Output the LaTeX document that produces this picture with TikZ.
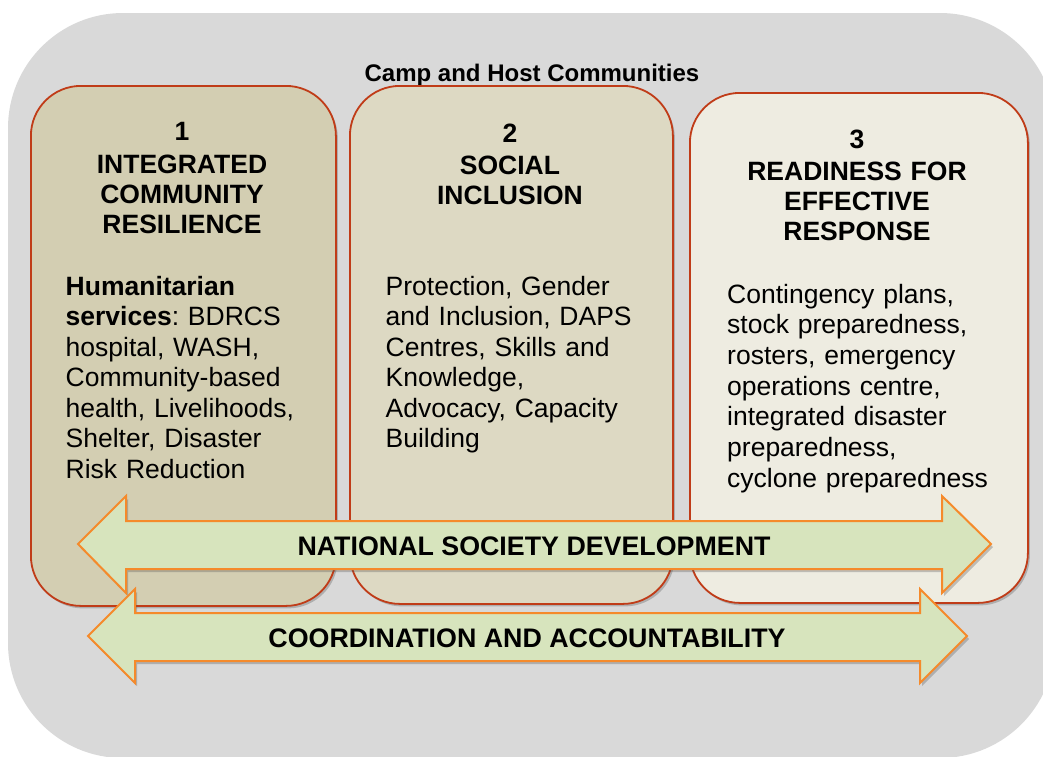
\documentclass[tikz,border=0pt]{standalone}
\usepackage{fontspec}
\setmainfont{Liberation Sans}
\usetikzlibrary{shadows}
\definecolor{bggray}{HTML}{D9D9D9}
\definecolor{boxone}{HTML}{D3CEB2}
\definecolor{boxtwo}{HTML}{DDD9C3}
\definecolor{boxthree}{HTML}{EEECE1}
\definecolor{boxedge}{HTML}{C03C18}
\definecolor{arrfill}{HTML}{D7E4BD}
\definecolor{arredge}{HTML}{F58A2B}
\begin{document}
\frenchspacing
\begin{tikzpicture}[x=1pt,y=-1pt,
  pillar/.style={draw=boxedge, line width=1.8pt, rounded corners=50pt, anchor=north west, inner sep=0pt,
    drop shadow={shadow xshift=2pt,shadow yshift=-2.5pt,opacity=0.3,fill=black!70}},
  bigarrow/.style={fill=arrfill, draw=arredge, line width=2pt, line join=miter,
    drop shadow={shadow xshift=2pt,shadow yshift=-3pt,opacity=0.3,fill=black!70}},
  headtext/.style={font=\fontsize{26.5}{30}\selectfont\bfseries, align=center, anchor=base, text width=320pt, inner sep=0pt},
  bodytext/.style={font=\fontsize{26.5}{30.5}\selectfont, align=left, anchor=base west, text width=320pt, inner sep=0pt},
  arrowtext/.style={font=\fontsize{26.8}{30}\selectfont\bfseries, anchor=base, inner sep=0pt},
  titletext/.style={font=\fontsize{24}{28}\selectfont\bfseries, anchor=base, inner sep=0pt}]
\useasboundingbox (0,0) rectangle (1043,756);
\fill[white] (0,0) rectangle (1043,756);
% background panel
\fill[bggray, rounded corners=115pt] (8,13) rectangle (1055,758);
\node[titletext] (title) at (532,81) {Camp and Host Communities};
% pillars
\node[pillar, fill=boxone, minimum width=305pt, minimum height=520pt] (b1) at (30,85) {};
\node[pillar, fill=boxtwo, minimum width=323pt, minimum height=518pt] (b2) at (349,85) {};
\node[pillar, fill=boxthree, minimum width=338pt, minimum height=510pt] (b3) at (689,92) {};
% headings
\node[headtext] (h1) at (182,140) {1\\[3pt]INTEGRATED\\COMMUNITY\\RESILIENCE};
\node[headtext] (h2) at (510,142) {2\\[2pt]SOCIAL\\INCLUSION};
\node[headtext] (h3) at (857,148) {3\\[2pt]READINESS FOR\\EFFECTIVE\\RESPONSE};
% bodies
\node[bodytext] (t1) at (65.5,295) {\textbf{Humanitarian}\\\textbf{services}: BDRCS\\hospital, WASH,\\Community-based\\health, Livelihoods,\\Shelter, Disaster\\Risk Reduction};
\node[bodytext] (t2) at (385.5,295) {Protection, Gender\\and Inclusion, DAPS\\Centres, Skills and\\Knowledge,\\Advocacy, Capacity\\Building};
\node[bodytext, font=\fontsize{26.5}{30.7}\selectfont] (t3) at (727,303) {Contingency plans,\\stock preparedness,\\rosters, emergency\\operations centre,\\integrated disaster\\preparedness,\\cyclone preparedness};
% arrows
\draw[bigarrow] (78,544) -- (126,496) -- (126,521) -- (942,521) -- (942,496) -- (991,544)
  -- (942,593) -- (942,569) -- (126,569) -- (126,593) -- cycle;
\node[arrowtext] (nsd) at (534,555) {NATIONAL SOCIETY DEVELOPMENT};
\draw[bigarrow] (88,636) -- (135,589) -- (135,613) -- (920,613) -- (920,589) -- (967,636)
  -- (920,683) -- (920,661) -- (135,661) -- (135,683) -- cycle;
\node[arrowtext] (coa) at (527,647) {COORDINATION AND ACCOUNTABILITY};
\end{tikzpicture}
\end{document}
